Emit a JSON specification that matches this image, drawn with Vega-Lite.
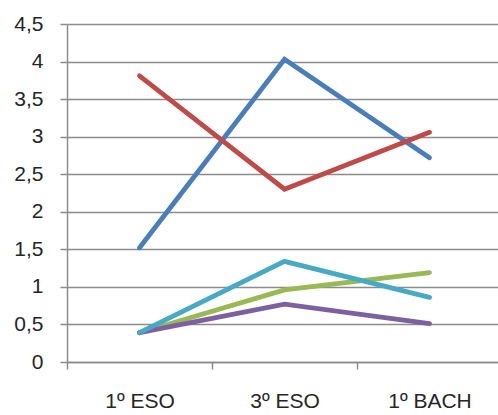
{
  "$schema": "https://vega.github.io/schema/vega-lite/v6.json",
  "autosize": "none",
  "width": 435,
  "height": 338,
  "padding": {"left": 67, "top": 24, "right": 0, "bottom": 53},
  "background": "white",
  "config": {
    "view": {"stroke": null},
    "font": "Liberation Sans"
  },
  "data": {
    "values": [
      {"curso": "1º ESO", "serie": "Serie1", "valor": 1.52},
      {"curso": "3º ESO", "serie": "Serie1", "valor": 4.03},
      {"curso": "1º BACH", "serie": "Serie1", "valor": 2.72},
      {"curso": "1º ESO", "serie": "Serie2", "valor": 3.81},
      {"curso": "3º ESO", "serie": "Serie2", "valor": 2.3},
      {"curso": "1º BACH", "serie": "Serie2", "valor": 3.06},
      {"curso": "1º ESO", "serie": "Serie3", "valor": 0.39},
      {"curso": "3º ESO", "serie": "Serie3", "valor": 0.96},
      {"curso": "1º BACH", "serie": "Serie3", "valor": 1.19},
      {"curso": "1º ESO", "serie": "Serie4", "valor": 0.39},
      {"curso": "3º ESO", "serie": "Serie4", "valor": 0.77},
      {"curso": "1º BACH", "serie": "Serie4", "valor": 0.51},
      {"curso": "1º ESO", "serie": "Serie5", "valor": 0.39},
      {"curso": "3º ESO", "serie": "Serie5", "valor": 1.34},
      {"curso": "1º BACH", "serie": "Serie5", "valor": 0.86}
    ]
  },
  "mark": {"type": "line", "strokeWidth": 4.8, "strokeCap": "round", "strokeJoin": "miter"},
  "encoding": {
    "x": {
      "field": "curso",
      "type": "nominal",
      "sort": ["1º ESO", "3º ESO", "1º BACH"],
      "scale": {"type": "band", "paddingInner": 0, "paddingOuter": 0},
      "axis": {
        "title": null,
        "labelAngle": 0,
        "labelFontSize": 21,
        "labelColor": "#262626",
        "labelPadding": 21,
        "tickBand": "extent",
        "tickSize": 7,
        "tickWidth": 1.5,
        "tickColor": "#8c8c8c",
        "domainColor": "#8c8c8c",
        "domainWidth": 1.5,
        "grid": false
      }
    },
    "y": {
      "field": "valor",
      "type": "quantitative",
      "scale": {"domain": [0, 4.5], "nice": false},
      "axis": {
        "title": null,
        "values": [0, 0.5, 1, 1.5, 2, 2.5, 3, 3.5, 4, 4.5],
        "labelExpr": "replace(format(datum.value, '~g'), '.', ',')",
        "labelFontSize": 21,
        "labelColor": "#262626",
        "labelPadding": 17,
        "tickSize": 7,
        "tickWidth": 1.5,
        "tickColor": "#8c8c8c",
        "domainColor": "#8c8c8c",
        "domainWidth": 1.5,
        "gridColor": "#8c8c8c",
        "gridWidth": 1.5
      }
    },
    "color": {
      "field": "serie",
      "type": "nominal",
      "scale": {
        "domain": ["Serie1", "Serie2", "Serie3", "Serie4", "Serie5"],
        "range": ["#4a7ebb", "#be4b48", "#98b954", "#7d60a0", "#46aac5"]
      },
      "legend": null
    },
    "order": {"field": "serie"}
  }
}
